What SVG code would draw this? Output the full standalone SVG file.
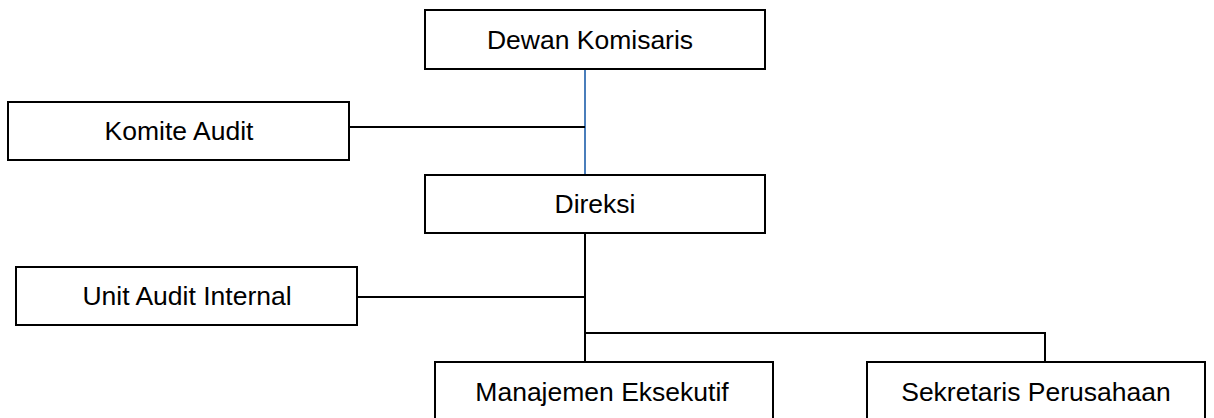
<svg xmlns="http://www.w3.org/2000/svg" width="1214" height="418" viewBox="0 0 1214 418">
<style>
.box{fill:#fff;stroke:#000;stroke-width:2}
.t{font-family:"Liberation Sans",Arial,sans-serif;font-size:26.5px;fill:#000;text-anchor:middle}
.c{fill:none;stroke:#000;stroke-width:2}
</style>
<rect width="1214" height="418" fill="#fff"/>
<g id="connectors">
<line x1="585" y1="69" x2="585" y2="175" stroke="#4a7ebb" stroke-width="2"/>
<line class="c" x1="349" y1="127" x2="585" y2="127"/>
<line class="c" x1="585" y1="233" x2="585" y2="362"/>
<line class="c" x1="357" y1="297" x2="585" y2="297"/>
<polyline class="c" points="585,333 1045,333 1045,362"/>
</g>
<g id="dewan"><rect class="box" x="425" y="10" width="340" height="59"/><text class="t" x="590" y="48.5">Dewan Komisaris</text></g>
<g id="komite"><rect class="box" x="8" y="102" width="341" height="58"/><text class="t" x="179" y="140">Komite Audit</text></g>
<g id="direksi"><rect class="box" x="425" y="175" width="340" height="58"/><text class="t" x="595" y="213">Direksi</text></g>
<g id="unit"><rect class="box" x="16" y="267" width="341" height="58"/><text class="t" x="187" y="305">Unit Audit Internal</text></g>
<g id="manajemen"><rect class="box" x="435" y="362" width="338" height="70"/><text class="t" x="602" y="401">Manajemen Eksekutif</text></g>
<g id="sekretaris"><rect class="box" x="867" y="362" width="338" height="70"/><text class="t" x="1036" y="401">Sekretaris Perusahaan</text></g>
</svg>
